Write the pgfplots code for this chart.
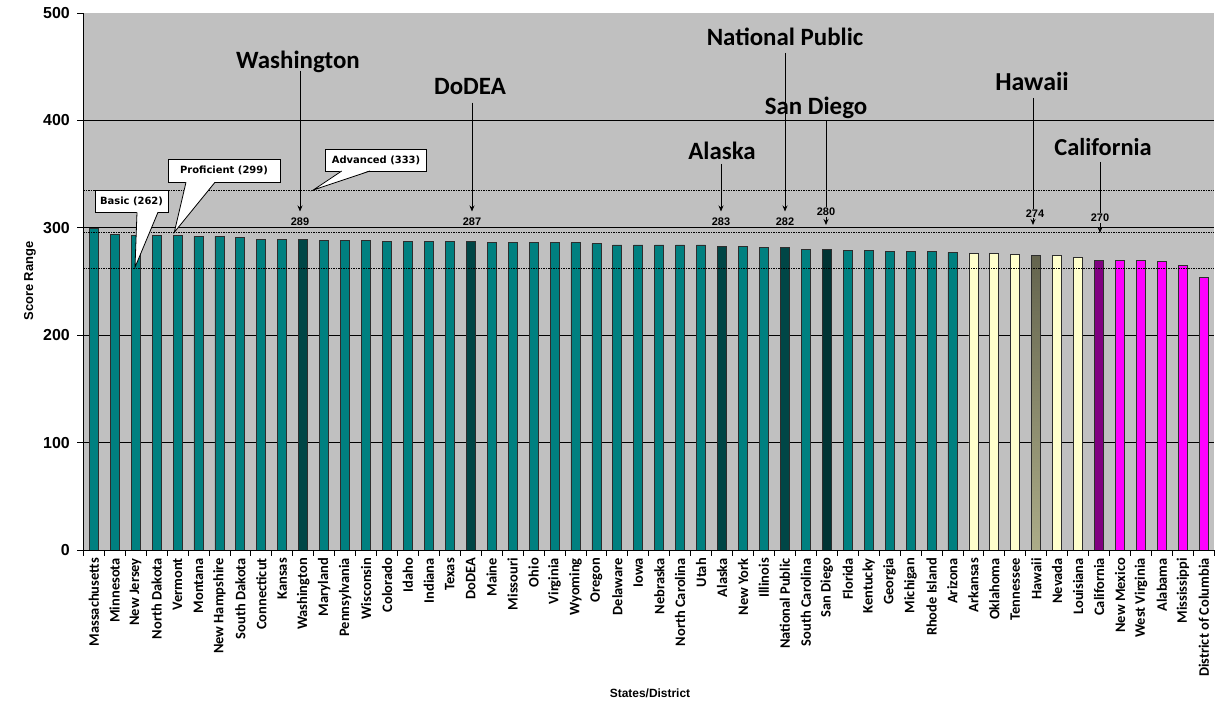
\documentclass[border=0pt]{standalone}
\usepackage{pgfplots}
\pgfplotsset{compat=1.18}
\usepackage{fontspec}
\setmainfont{Liberation Sans}
\newfontfamily\carlito{Carlito}
\newfontfamily\dejavu{DejaVu Sans}
\usetikzlibrary{arrows.meta}
\definecolor{bggray}{RGB}{192,192,192}
\definecolor{teal1}{RGB}{0,128,128}
\definecolor{teal2}{RGB}{0,70,70}
\definecolor{teal3}{RGB}{0,52,52}
\definecolor{paleyel}{RGB}{255,255,204}
\definecolor{olivetop}{RGB}{100,100,78}
\definecolor{olivebot}{RGB}{172,172,136}
\definecolor{purp}{RGB}{128,0,128}
\definecolor{magen}{RGB}{255,0,255}
\definecolor{edge}{RGB}{45,45,45}
\newcommand{\fs}[1]{\fontsize{#1}{#1}\selectfont}

\begin{document}
\begin{tikzpicture}[x=1bp,y=1bp]
\path[use as bounding box] (0,0) rectangle (1222,705);

\begin{axis}[
    at={(83.3bp,155bp)}, anchor=south west,
    width=1131bp, height=537bp, scale only axis,
    xmin=0.5, xmax=54.5, ymin=0, ymax=500,
    axis background/.style={fill=bggray},
    axis x line*=bottom, axis y line*=left,
    axis line style={black, line width=0.9bp},
    bar width=9bp,
    tick align=outside,
    xtick={1,...,54},
    xticklabels={Massachusetts,Minnesota,New Jersey,North Dakota,Vermont,Montana,New Hampshire,South Dakota,Connecticut,Kansas,Washington,Maryland,Pennsylvania,Wisconsin,Colorado,Idaho,Indiana,Texas,DoDEA,Maine,Missouri,Ohio,Virginia,Wyoming,Oregon,Delaware,Iowa,Nebraska,North Carolina,Utah,Alaska,New York,Illinois,National Public,South Carolina,San Diego,Florida,Kentucky,Georgia,Michigan,Rhode Island,Arizona,Arkansas,Oklahoma,Tennessee,Hawaii,Nevada,Louisiana,California,New Mexico,West Virginia,Alabama,Mississippi,District of Columbia},
    x tick label style={rotate=90, anchor=east, font=\carlito\bfseries\fs{14.5}, inner sep=2bp},
    major x tick style={draw=none},
    minor xtick={0.5,1.5,...,54.5},
    minor tick length=6bp,
    minor x tick style={black, line width=0.8bp},
    ytick={0,100,...,500},
    major tick length=6bp,
    major y tick style={black, line width=0.8bp},
    y tick label style={font=\bfseries\fs{16}, xshift=-4bp},
    /pgf/number format/assume math mode=true,
    extra y ticks={100,200,300,400},
    extra y tick labels={},
    extra y tick style={grid=major, major tick length=0pt},
    major grid style={black, line width=0.9bp},
]
% main teal bars
\addplot[ybar, bar shift=0pt, fill=teal1, draw=edge, line width=0.8bp] coordinates {
(1,299) (2,294) (3,293) (4,293) (5,293) (6,292) (7,292) (8,291) (9,289) (10,289)
(12,288) (13,288) (14,288) (15,287) (16,287) (17,287) (18,287)
(20,286) (21,286) (22,286) (23,286) (24,286) (25,285) (26,284) (27,284) (28,284)
(29,284) (30,284) (32,283) (33,282) (35,280) (37,279) (38,279) (39,278) (40,278)
(41,278) (42,277)};
% highlighted jurisdictions
\addplot[ybar, bar shift=0pt, fill=teal2, draw=edge, line width=0.8bp] coordinates {
(11,289) (19,287) (31,283) (34,282)};
\addplot[ybar, bar shift=0pt, fill=teal3, draw=edge, line width=0.8bp] coordinates {(36,280)};
\addplot[ybar, bar shift=0pt, fill=paleyel, draw=edge, line width=0.8bp] coordinates {
(43,276) (44,276) (45,275) (47,274) (48,272)};
\addplot[ybar, bar shift=0pt, top color=olivetop, bottom color=olivebot, draw=edge, line width=0.8bp] coordinates {(46,274)};
\addplot[ybar, bar shift=0pt, fill=purp, draw=edge, line width=0.8bp] coordinates {(49,270)};
\addplot[ybar, bar shift=0pt, fill=magen, draw=edge, line width=0.8bp] coordinates {
(50,270) (51,270) (52,269) (53,265) (54,254)};
% achievement level cut lines
\addplot[black, line width=1.1bp, dash pattern=on 1.2bp off 1.3bp] coordinates {(0.5,262) (54.5,262)};
\addplot[black, line width=1.1bp, dash pattern=on 1.2bp off 1.3bp] coordinates {(0.5,296) (54.5,296)};
\addplot[black, line width=1.1bp, dash pattern=on 1.2bp off 1.3bp] coordinates {(0.5,335) (54.5,335)};
\end{axis}

% axis titles
\node[rotate=90, font=\bfseries\fs{13}] at (30,424) {Score Range};
\node[font=\bfseries\fs{12}] at (650,12) {States/District};

% jurisdiction call-outs
\tikzset{big/.style={font=\carlito\bfseries\fs{25}}, val/.style={font=\bfseries\fs{11}, inner sep=1bp},
         arr/.style={line width=0.9bp, -{Stealth[length=6bp,width=5bp]}}}
\node[big] at (298,643.3) {Washington};
\draw[arr] (300,634) -- (300,493.5);
\node[val] at (300,483.3) {289};
\node[big] at (470,618.3) {DoDEA};
\draw[arr] (472,602.3) -- (472,493.5);
\node[val] at (472,483.3) {287};
\node[big] at (722,554) {Alaska};
\draw[arr] (721,541) -- (721,493.5);
\node[val] at (721,483.3) {283};
\node[big] at (785,668) {National Public};
\draw[arr] (785,652) -- (785,493.5);
\node[val] at (785,483.3) {282};
\node[big] at (816,597) {San Diego};
\draw[arr] (826,584) -- (826,480);
\node[val, fill=bggray] at (826,493) {280};
\node[big, font=\carlito\bfseries\fs{26}] at (1032,623) {Hawaii};
\draw[arr] (1033,607) -- (1033,480);
\node[val, fill=bggray] at (1035,491.5) {274};
\node[big, font=\carlito\bfseries\fs{24.5}] at (1103,558) {California};
\draw[arr] (1100,543) -- (1100,472);
\node[val, fill=bggray] at (1100,487) {270};

% achievement level balloons
\tikzset{ball/.style={font=\dejavu\bfseries\fs{10}}}
\filldraw[fill=white, draw=black, line width=0.8bp] (95,492.7) rectangle (168,514.3);
\fill[white] (137,493.3) -- (135,437.7) -- (158,493.3) -- cycle;
\draw[line width=0.8bp] (137,492.7) -- (135,437.7) -- (158,492.7);
\node[ball] at (131.5,503.5) {Basic (262)};

\filldraw[fill=white, draw=black, line width=0.8bp] (168.3,522.7) rectangle (280,545.7);
\fill[white] (186,523.3) -- (174.3,472.7) -- (215,523.3) -- cycle;
\draw[line width=0.8bp] (186,522.7) -- (174.3,472.7) -- (215,522.7);
\node[ball] at (224,534.2) {Proficient (299)};

\filldraw[fill=white, draw=black, line width=0.8bp] (325,534) rectangle (426.7,556);
\fill[white] (341.7,534.6) -- (313.3,515) -- (370,534.6) -- cycle;
\draw[line width=0.8bp] (341.7,534) -- (313.3,515) -- (370,534);
\node[ball] at (376,545) {Advanced (333)};
\end{tikzpicture}
\end{document}
